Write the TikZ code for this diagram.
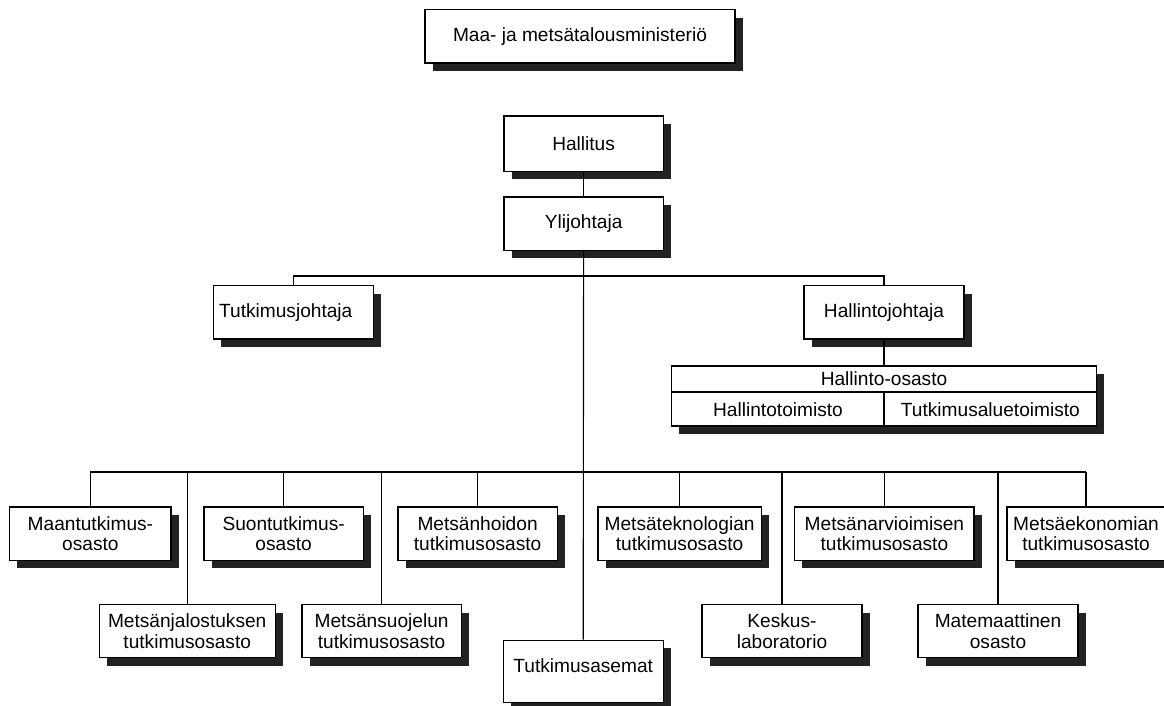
\documentclass[tikz,border=0pt]{standalone}
\usepackage{fontspec}
\setmainfont{Liberation Sans}
\usetikzlibrary{shadows, positioning}
\definecolor{shade}{HTML}{222222}
\tikzset{
    unit/.style={rectangle, draw, fill=white, line width=0.8pt, minimum height=1.33cm, align=center,
        font=\fontsize{13.6}{14.6}\selectfont, inner sep=1pt,
        drop shadow={shadow xshift=0.19cm, shadow yshift=-0.2cm, fill=shade, opacity=1}},
    lbl/.style={font=\fontsize{13.6}{14.6}\selectfont, inner sep=1pt},
    link/.style={line width=0.8pt},
}

\begin{document}
\begin{tikzpicture}

\useasboundingbox (0, 0) rectangle (29.1, -17.65);

% ── Top ──
\node[unit, minimum width=7.75cm] (mmm) at (14.5, -0.91) {Maa- ja mets\"atalousministeri\"o};
\node[unit, minimum width=3.98cm, minimum height=1.38cm] (hal) at (14.59, -3.59) {Hallitus};
\node[unit, minimum width=3.98cm] (ylj) at (14.59, -5.59) {Ylijohtaja};

% ── Johtajat ──
\node[unit, minimum width=4cm, text width=3.7cm, align=left] (tj) at (7.33, -7.81) {Tutkimusjohtaja};
\node[unit, minimum width=4cm] (hj) at (22.1, -7.81) {Hallintojohtaja};

% Hallinto-osasto
\node[unit, minimum width=10.63cm, minimum height=1.5cm] (hos) at (22.1, -9.9) {};
\node[lbl] (hosh) at (22.1, -9.47) {Hallinto-osasto};
\node[lbl] (hto) at (19.45, -10.23) {Hallintotoimisto};
\node[lbl] (hta) at (24.76, -10.23) {Tutkimusaluetoimisto};
\draw[link] (hos.west |- 0, -9.8) -- (hos.east |- 0, -9.8);
\draw[link] (22.1, -9.8) -- (hos.south);

% ── Osastot ──
\node[unit, minimum width=4.03cm] (mt) at (2.26, -13.34) {Maantutkimus-\\osasto};
\node[unit, minimum width=3.98cm] (st) at (7.09, -13.34) {Suontutkimus-\\osasto};
\node[unit, minimum width=3.98cm] (mh) at (11.94, -13.34) {Mets\"anhoidon\\tutkimusosasto};
\node[unit, minimum width=4.08cm] (mtk) at (16.99, -13.34) {Mets\"ateknologian\\tutkimusosasto};
\node[unit, minimum width=4.48cm] (ma) at (22.11, -13.34) {Mets\"anarvioimisen\\tutkimusosasto};
\node[unit, minimum width=3.95cm] (me) at (27.15, -13.34) {Mets\"aekonomian\\tutkimusosasto};

\node[unit, minimum width=4.4cm] (mj) at (4.68, -15.78) {Mets\"anjalostuksen\\tutkimusosasto};
\node[unit, minimum width=3.98cm] (ms) at (9.54, -15.78) {Mets\"ansuojelun\\tutkimusosasto};
\node[unit, minimum width=4cm, minimum height=1.55cm, text depth=0.3cm] (ta) at (14.58, -16.78) {Tutkimusasemat};
\node[unit, minimum width=4cm] (kl) at (19.55, -15.78) {Keskus-\\laboratorio};
\node[unit, minimum width=4cm] (mm) at (24.95, -15.78) {Matemaattinen\\osasto};

% Connectors
\coordinate (ubus) at (14.59, -6.9);
\coordinate (lbus) at (14.59, -11.8);
\draw[link] (hal) -- (ylj);
\draw[link] (ylj.south) -- (ta.north);
\draw[link] (tj.north) -- (tj.north |- ubus) -- (hj.north |- ubus) -- (hj.north);
\draw[link] (hj.south) -- (hos.north);
\draw[link] (mt.north |- lbus) -- (me.north |- lbus);
\foreach \n in {mt, st, mh, mtk, ma, me, mj, ms, kl, mm}
    \draw[link] (\n.north) -- (\n.north |- lbus);

\end{tikzpicture}
\end{document}
